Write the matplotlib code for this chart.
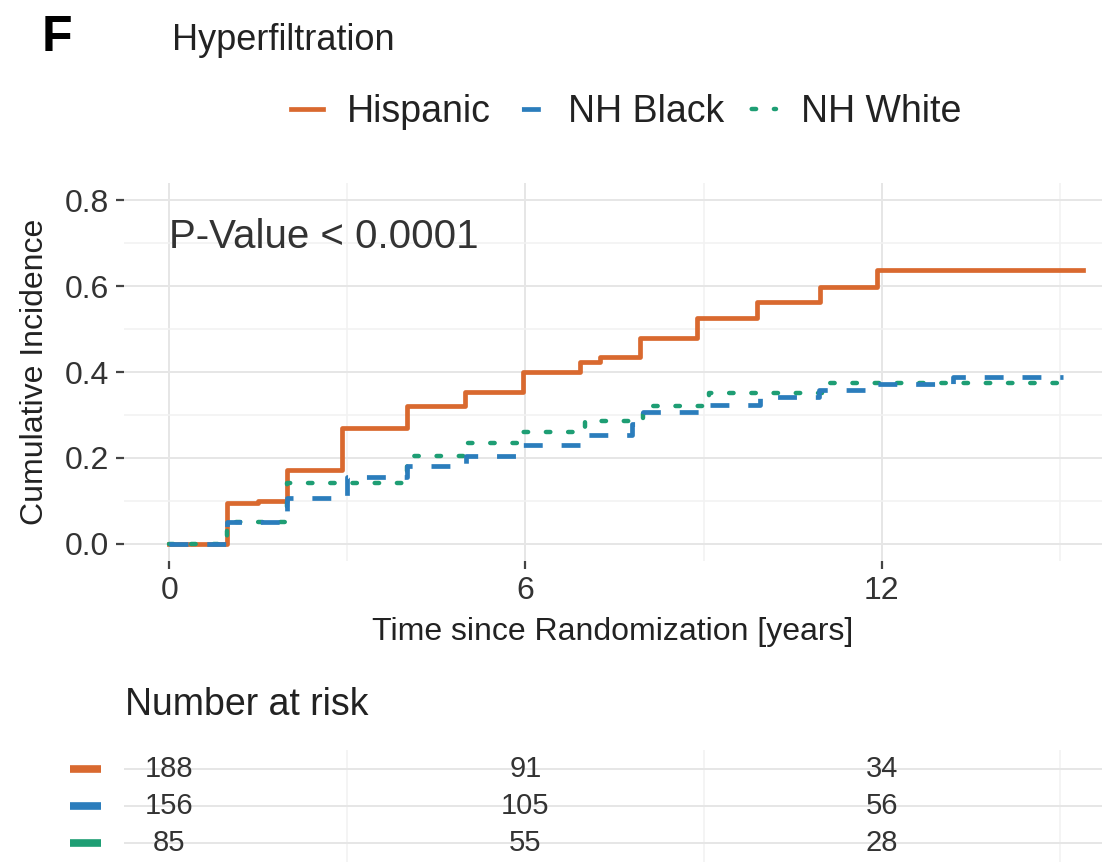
import matplotlib
matplotlib.use("Agg")
import matplotlib.pyplot as plt
from matplotlib.lines import Line2D
import matplotlib.transforms as mtransforms

plt.rcParams['font.family'] = ['Liberation Sans', 'DejaVu Sans']

# step curves (time in years, cumulative incidence)
hisp_t = [0, 0.98, 1.5, 1.99, 2.91, 4.0, 4.98, 5.96, 6.92, 7.26, 7.93, 8.89, 9.9, 10.96, 11.92, 15.39]
hisp_v = [0, 0.095, 0.10, 0.172, 0.27, 0.32, 0.354, 0.40, 0.423, 0.435, 0.479, 0.525, 0.563, 0.598, 0.637, 0.637]

black_t = [0, 0.98, 1.99, 3.0, 4.0, 5.0, 5.95, 7.05, 7.8, 7.98, 9.0, 9.95, 10.95, 11.9, 13.2, 15.05]
black_v = [0, 0.05, 0.107, 0.155, 0.18, 0.205, 0.23, 0.253, 0.28, 0.307, 0.323, 0.342, 0.358, 0.372, 0.388, 0.388]

white_t = [0, 0.98, 1.99, 4.0, 5.0, 5.96, 7.0, 7.98, 9.1, 11.0, 15.05]
white_v = [0, 0.05, 0.142, 0.205, 0.235, 0.26, 0.285, 0.32, 0.35, 0.375, 0.375]

groups = ['Hispanic', 'NH Black', 'NH White']
colors = ['#D9692F', '#2B7DBC', '#1E9E74']

risk_times = [0, 6, 12]
risk_hisp = [188, 91, 34]
risk_black = [156, 105, 56]
risk_white = [85, 55, 28]

W, H = 1109, 863
fig = plt.figure(figsize=(W / 100, H / 100), dpi=100)

x_lo, x_hi = -0.76, 15.71
left_px, right_px = 124, 1102

# main panel
ax = fig.add_axes([left_px / W, 1 - 561 / H, (right_px - left_px) / W, (561 - 183) / H])
ax.set_xlim(x_lo, x_hi)
ax.set_ylim(-0.04, 0.84)
for s in ax.spines.values():
    s.set_visible(False)

ax.set_xticks([0, 6, 12])
ax.set_xticks([3, 9, 15], minor=True)
ax.set_yticks([0.0, 0.2, 0.4, 0.6, 0.8])
ax.set_yticklabels(['0.0', '0.2', '0.4', '0.6', '0.8'])
ax.set_yticks([0.1, 0.3, 0.5, 0.7], minor=True)
ax.grid(True, which='major', color='#E6E6E6', lw=1.4)
ax.grid(True, which='minor', color='#F2F2F2', lw=1.2)
ax.set_axisbelow(True)
ax.tick_params(which='major', length=6, width=1.6, color='#444444', pad=5,
               labelsize=23, labelcolor='#333333')
ax.tick_params(which='minor', length=0)

lw = 3.4
ax.step(hisp_t, hisp_v, where='post', color=colors[0], lw=lw, solid_joinstyle='round')
ax.step(white_t, white_v, where='post', color=colors[2], lw=3.2,
        dashes=(1, 4), dash_capstyle='round')
ax.step(black_t, black_v, where='post', color=colors[1], lw=lw, dashes=(4, 4))

ax.text(0, 0.715, 'P-Value < 0.0001', fontsize=29, color='#333333', ha='left', va='center')
ax.set_xlabel('Time since Randomization [years]', fontsize=23, color='#222222', labelpad=8)
ax.set_ylabel('Cumulative Incidence', fontsize=23, color='#222222', labelpad=10)

# title, panel letter
fig.text(42 / W, 1 - 38 / H, 'F', fontsize=36, fontweight='bold', va='center', ha='left')
fig.text(172 / W, 1 - 40 / H, 'Hyperfiltration', fontsize=26, color='#222222', va='center', ha='left')

# legend
handles = [
    Line2D([], [], color=colors[0], lw=lw),
    Line2D([], [], color=colors[1], lw=lw, linestyle=(6, (4, 4))),
    Line2D([], [], color=colors[2], lw=3.2, linestyle=(3.5, (1, 4)), dash_capstyle='round'),
]
fig.legend(handles, groups, loc='center', bbox_to_anchor=(626 / W, 1 - 112 / H), ncol=3,
           frameon=False, fontsize=27, handlelength=0.85, handletextpad=0.65,
           columnspacing=0.55, labelcolor='#222222')

# number at risk table
fig.text(125 / W, 1 - 705 / H, 'Number at risk', fontsize=27, color='#222222', va='center', ha='left')
ax2 = fig.add_axes([left_px / W, 1 / H, (right_px - left_px) / W, 112 / H])
ax2.set_xlim(x_lo, x_hi)
ax2.set_ylim(0.5, 3.5)
for s in ax2.spines.values():
    s.set_visible(False)
ax2.set_xticks([0, 6, 12])
ax2.set_xticks([3, 9, 15], minor=True)
ax2.set_yticks([1, 2, 3])
ax2.grid(True, which='major', axis='y', color='#E6E6E6', lw=1.4)
ax2.grid(True, which='minor', axis='x', color='#F2F2F2', lw=1.2)
ax2.set_axisbelow(True)
ax2.tick_params(which='both', length=0, labelbottom=False, labelleft=False)

trans = mtransforms.blended_transform_factory(ax2.transAxes, ax2.transData)
rows = [risk_hisp, risk_black, risk_white]
for i, (vals, c) in enumerate(zip(rows, colors)):
    yrow = 3 - i
    ax2.plot([-0.055, -0.024], [yrow, yrow], color=c, lw=5.5, transform=trans,
             clip_on=False, solid_capstyle='butt')
    for t, n in zip(risk_times, vals):
        ax2.text(t, yrow, str(n), fontsize=21, color='#333333', ha='center', va='center')

fig.savefig('out.png', dpi=100)
